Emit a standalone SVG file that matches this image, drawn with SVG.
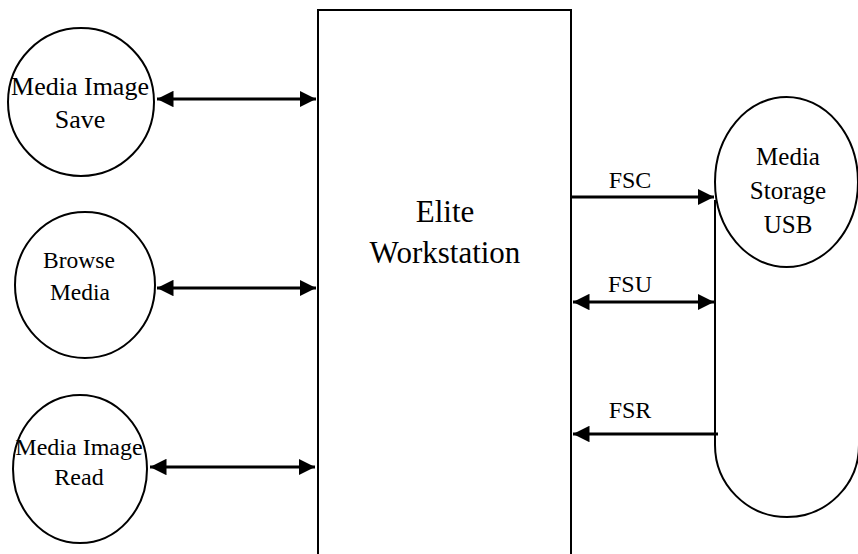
<svg xmlns="http://www.w3.org/2000/svg" width="858" height="554" viewBox="0 0 858 554">
<defs>
<marker id="ah" viewBox="0 0 10 10" refX="10" refY="5" markerWidth="5.5" markerHeight="5.5" orient="auto-start-reverse" markerUnits="strokeWidth">
<path d="M0,0 L10,5 L0,10 Z" fill="#000"/>
</marker>
<style>
.sh{fill:#fff;stroke:#000;stroke-width:2}
.t{font-family:"Liberation Serif","Times New Roman",serif;fill:#000;text-anchor:middle}
.c{stroke:#000;stroke-width:3;fill:none}
</style>
</defs>
<rect width="858" height="554" fill="#fff"/>
<g id="elite">
<rect class="sh" x="318" y="10" width="253" height="560"/>
<text class="t" x="445" y="222" font-size="31">Elite</text>
<text class="t" x="445" y="263" font-size="31">Workstation</text>
</g>
<g id="save">
<ellipse class="sh" cx="81" cy="102" rx="73" ry="74"/>
<text class="t" x="80" y="95" font-size="26">Media Image</text>
<text class="t" x="80" y="128" font-size="26">Save</text>
</g>
<g id="browse">
<ellipse class="sh" cx="85" cy="285" rx="70" ry="73"/>
<text class="t" x="79" y="268" font-size="23.5">Browse</text>
<text class="t" x="80" y="300" font-size="23.5">Media</text>
</g>
<g id="read">
<ellipse class="sh" cx="80" cy="469" rx="67" ry="74"/>
<text class="t" x="79" y="455" font-size="24">Media Image</text>
<text class="t" x="79" y="485" font-size="24">Read</text>
</g>
<g id="storage">
<path class="sh" d="M715,200 L715,445 A72,72 0 0 0 859,445 L859,200"/>
<ellipse class="sh" cx="786.5" cy="182" rx="71.5" ry="85"/>
<text class="t" x="788" y="165" font-size="25">Media</text>
<text class="t" x="788" y="199" font-size="25">Storage</text>
<text class="t" x="788" y="233" font-size="25">USB</text>
</g>
<g id="connectors">
<line class="c" x1="157" y1="99" x2="316" y2="99" marker-start="url(#ah)" marker-end="url(#ah)"/>
<line class="c" x1="157" y1="288" x2="316" y2="288" marker-start="url(#ah)" marker-end="url(#ah)"/>
<line class="c" x1="150" y1="467" x2="315" y2="467" marker-start="url(#ah)" marker-end="url(#ah)"/>
<line class="c" x1="572" y1="197" x2="714" y2="197" marker-end="url(#ah)"/>
<line class="c" x1="573" y1="302" x2="714" y2="302" marker-start="url(#ah)" marker-end="url(#ah)"/>
<line class="c" x1="718" y1="434" x2="573" y2="434" marker-end="url(#ah)"/>
<text class="t" x="630" y="188" font-size="24">FSC</text>
<text class="t" x="630" y="292" font-size="24">FSU</text>
<text class="t" x="630" y="418" font-size="24">FSR</text>
</g>
</svg>
